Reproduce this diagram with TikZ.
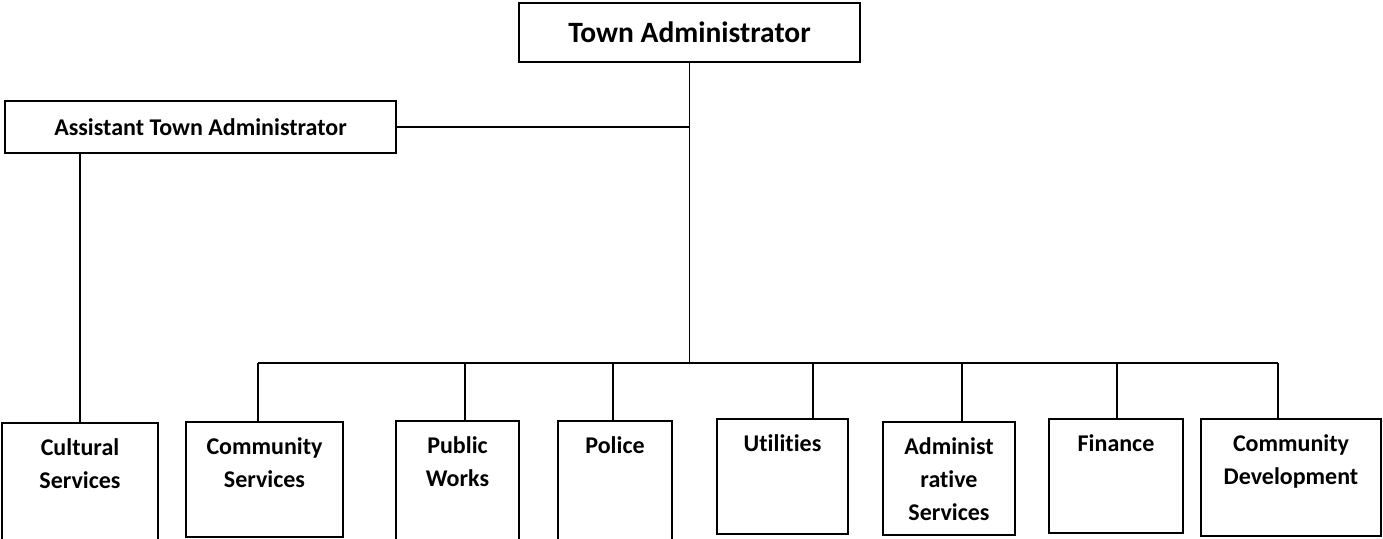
\documentclass[tikz,border=0pt]{standalone}
\usepackage{fontspec}
\setmainfont{Carlito}[Ligatures=NoCommon]
\begin{document}
\begin{tikzpicture}[x=1pt,y=-1pt,
  box/.style={draw=black, line width=1.7pt, inner sep=0pt, fill=white},
  lbl/.style={anchor=north, yshift=-10pt, align=center, inner sep=0pt, font=\fontsize{24}{33}\selectfont\bfseries},
  conn/.style={draw=black, line width=1.4pt}]
\useasboundingbox (0,0) rectangle (1383,538);
\clip (0,0) rectangle (1383,538);
% top level
\node[box, minimum width=341pt, minimum height=59pt, font=\fontsize{29.5}{34}\selectfont\bfseries] (ta) at (689.5,32.5) {Town Administrator};
\node[box, minimum width=391pt, minimum height=52pt, font=\fontsize{24}{33}\selectfont\bfseries] (ata) at (200.5,127) {Assistant Town Administrator};
% departments
\node[box, minimum width=156pt, minimum height=137pt] (cul) at (80,491.5) {};
\node[box, minimum width=157pt, minimum height=115pt] (cs) at (264.5,479.5) {};
\node[box, minimum width=123pt, minimum height=139pt] (pw) at (457.5,490.5) {};
\node[box, minimum width=114pt, minimum height=139pt] (pol) at (615,490.5) {};
\node[box, minimum width=131pt, minimum height=115pt] (util) at (782.5,476.5) {};
\node[box, minimum width=132pt, minimum height=113pt] (adm) at (949,478.5) {};
\node[box, minimum width=134pt, minimum height=114pt] (fin) at (1116,476) {};
\node[box, minimum width=180pt, minimum height=117pt] (cd) at (1291,477.5) {};
% labels
\node[lbl] (culL) at (cul.north) {\strut Cultural\\Services};
\node[lbl] (csL) at (cs.north) {\strut Community\\Services};
\node[lbl] (pwL) at (pw.north) {\strut Public\\Works};
\node[lbl] (polL) at (pol.north) {\strut Police};
\node[lbl] (utilL) at (util.north) {\strut Utilities};
\node[lbl] (admL) at (adm.north) {\strut Administ\\rative\\Services};
\node[lbl] (finL) at (fin.north) {\strut Finance};
\node[lbl] (cdL) at (cd.north) {\strut Community\\Development};
% bus coordinates
\coordinate (jt) at (ta.south |- 0,363);
\coordinate (d1) at (258,363);
\coordinate (d2) at (465,363);
\coordinate (d3) at (613,363);
\coordinate (d4) at (813,363);
\coordinate (d5) at (962,363);
\coordinate (d6) at (1117,363);
\coordinate (d7) at (1278,363);
% connectors
\draw[conn] (ta.south) -- (jt);
\draw[conn, line width=1.7pt] (ata.east) -- (ata.east -| ta.south);
\draw[conn] (cul.north) -- (cul.north |- ata.south);
\draw[conn] (d1) -- (d7);
\draw[conn] (d1) -- (d1 |- cs.north);
\draw[conn] (d2) -- (d2 |- pw.north);
\draw[conn] (d3) -- (d3 |- pol.north);
\draw[conn] (d4) -- (d4 |- util.north);
\draw[conn] (d5) -- (d5 |- adm.north);
\draw[conn] (d6) -- (d6 |- fin.north);
\draw[conn] (d7) -- (d7 |- cd.north);
\end{tikzpicture}
\end{document}
